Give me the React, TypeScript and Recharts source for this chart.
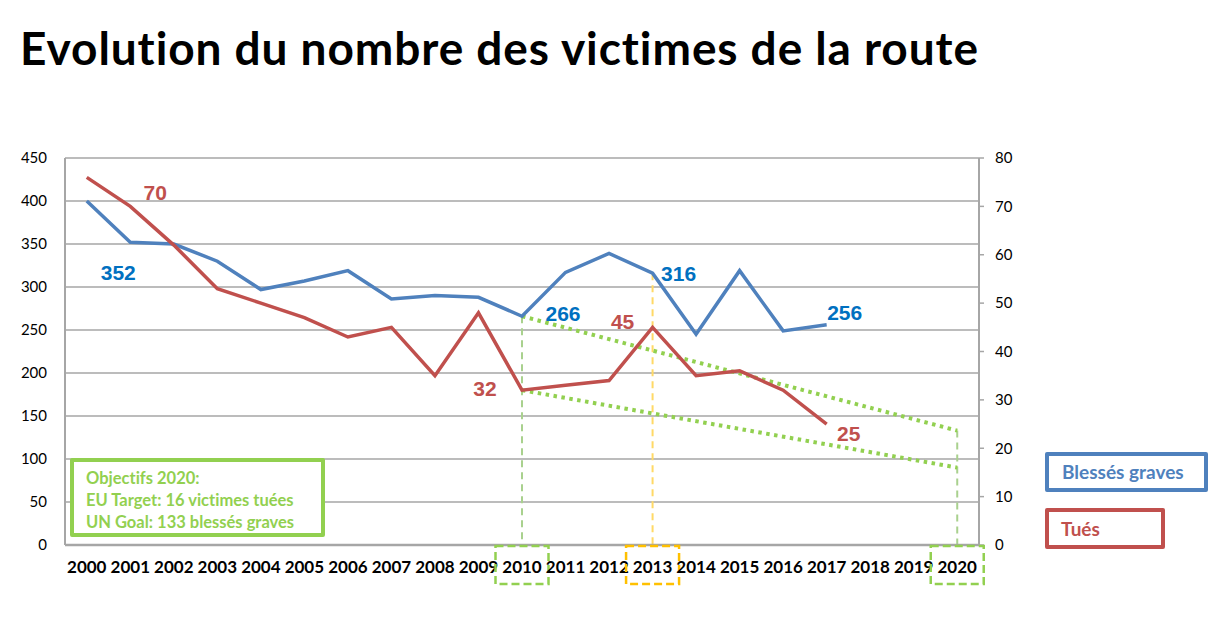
import React from "react";
import {
  CartesianGrid,
  LabelList,
  Line,
  LineChart,
  ReferenceLine,
  XAxis,
  YAxis,
} from "recharts";

const years = [
  "2000", "2001", "2002", "2003", "2004", "2005", "2006", "2007", "2008", "2009", "2010",
  "2011", "2012", "2013", "2014", "2015", "2016", "2017", "2018", "2019", "2020",
];
const blesses = [400, 352, 350, 330, 297, 307, 319, 286, 290, 288, 266, 317, 339, 316, 245, 319, 249, 256, null, null, null];
const tues = [76, 70, 62, 53, 50, 47, 43, 45, 35, 48, 32, 33, 34, 45, 35, 36, 32, 25, null, null, null];
// objectif: la moitié de 2010 en 2020
const goalBlesses = [null, null, null, null, null, null, null, null, null, null, 266, null, null, null, null, null, null, null, null, null, 133];
const goalTues = [null, null, null, null, null, null, null, null, null, null, 32, null, null, null, null, null, null, null, null, null, 16];
const leftTicks = [0, 50, 100, 150, 200, 250, 300, 350, 400, 450];
const rightTicks = [0, 10, 20, 30, 40, 50, 60, 70, 80];

const BLUE = "#4f81bd";
const RED = "#c0504d";
const GREEN = "#92d050";
const YELLOW = "#ffc000";

// boxes round some year labels
const markedYears: Record<string, string> = { "2010": GREEN, "2013": YELLOW, "2020": GREEN };

// where the value labels sit, relative to the point
const blueLabelSpots: Record<string, [number, number]> = {
  "2001": [-12, 30],
  "2010": [41, -3],
  "2013": [26, 0],
  "2017": [18, -12],
};
const redLabelSpots: Record<string, [number, number]> = {
  "2001": [25, -14],
  "2010": [-37, -2],
  "2013": [-30, -6],
  "2017": [22, 9],
};

const data = years.map((year, i) => ({
  year,
  blesses: blesses[i],
  tues: tues[i],
  goalBlesses: goalBlesses[i],
  goalTues: goalTues[i],
}));

const FONT = "Lato, 'Noto Sans', sans-serif";
// half a category width, so points sit in the middle of their slot
const HALF_BAND = 914 / years.length / 2;

function YearTick(props: any) {
  const { x, y, payload } = props;
  const mark = markedYears[payload.value];
  return (
    <g>
      {mark && (
        <rect
          x={x - 26.5}
          y={y + 1}
          width={53}
          height={38}
          fill="none"
          stroke={mark}
          strokeWidth={2.5}
          strokeDasharray="8 4"
        />
      )}
      <text x={x} y={y + 28} textAnchor="middle" fontFamily={FONT} fontWeight={700} fontSize={17} fill="#000">
        {payload.value}
      </text>
    </g>
  );
}

function makeLabel(spots: Record<string, [number, number]>, color: string) {
  return (props: any) => {
    const { x, y, index, value } = props;
    const spot = spots[years[index]];
    if (!spot || value == null) return null;
    return (
      <text
        x={x + spot[0]}
        y={y + spot[1]}
        textAnchor="middle"
        dominantBaseline="central"
        fontFamily="'Liberation Sans', Arial, sans-serif"
        fontWeight={700}
        fontSize={21}
        fill={color}
      >
        {value}
      </text>
    );
  };
}

export default function App() {
  return (
    <div
      style={{
        position: "absolute",
        left: 0,
        top: 0,
        width: 1224,
        height: 624,
        background: "#fff",
        fontFamily: FONT,
        fontVariantLigatures: "none",
        overflow: "hidden",
      }}
    >
      <svg width={1224} height={100} style={{ position: "absolute", left: 0, top: 0 }}>
        <text
          x={20}
          y={65}
          fontFamily={FONT}
          fontWeight={700}
          fontSize={46}
          fill="#000"
          textLength={958}
          lengthAdjust="spacing"
          style={{ fontVariantLigatures: "none" }}
        >
          Evolution du nombre des victimes de la route
        </text>
      </svg>

      <div style={{ position: "absolute", left: 0, top: 0 }}>
        <LineChart
          width={1224}
          height={624}
          data={data}
          margin={{ top: 158, right: 195, bottom: 39, left: 20 }}
        >
          <CartesianGrid yAxisId="left" vertical={false} stroke="#a6a6a6" strokeWidth={1.5} />
          <XAxis
            dataKey="year"
            height={40}
            interval={0}
            padding={{ left: HALF_BAND, right: HALF_BAND }}
            tick={<YearTick />}
            tickLine={false}
            tickSize={0}
            tickMargin={0}
            axisLine={{ stroke: "#a6a6a6", strokeWidth: 2.5 }}
          />
          <YAxis
            yAxisId="left"
            width={45}
            domain={[0, 450]}
            ticks={leftTicks}
            interval={0}
            tickLine={false}
            tickSize={0}
            tickMargin={18}
            axisLine={{ stroke: "#a6a6a6", strokeWidth: 2 }}
            tick={{ fontFamily: FONT, fontSize: 15, fill: "#000" }}
          />
          <YAxis
            yAxisId="right"
            orientation="right"
            width={50}
            domain={[0, 80]}
            ticks={rightTicks}
            interval={0}
            tickSize={5}
            tickMargin={11}
            tickLine={{ stroke: "#a6a6a6", strokeWidth: 1.5 }}
            axisLine={{ stroke: "#a6a6a6", strokeWidth: 2 }}
            tick={{ fontFamily: FONT, fontSize: 15, fill: "#000", textAnchor: "start" }}
          />

          <ReferenceLine
            yAxisId="left"
            segment={[{ x: "2010", y: 266 }, { x: "2010", y: 0 }]}
            stroke="#a9d18e"
            strokeWidth={2}
            strokeDasharray="7 5"
          />
          <ReferenceLine
            yAxisId="left"
            segment={[{ x: "2013", y: 316 }, { x: "2013", y: 0 }]}
            stroke="#ffd966"
            strokeWidth={2}
            strokeDasharray="7 5"
          />
          <ReferenceLine
            yAxisId="left"
            segment={[{ x: "2020", y: 133 }, { x: "2020", y: 0 }]}
            stroke="#a9d18e"
            strokeWidth={2}
            strokeDasharray="7 5"
          />

          <Line
            yAxisId="left"
            dataKey="goalBlesses"
            connectNulls
            stroke={GREEN}
            strokeWidth={4}
            strokeDasharray="3.5 4.5"
            dot={false}
            isAnimationActive={false}
          />
          <Line
            yAxisId="right"
            dataKey="goalTues"
            connectNulls
            stroke={GREEN}
            strokeWidth={4}
            strokeDasharray="3.5 4.5"
            dot={false}
            isAnimationActive={false}
          />
          <Line
            yAxisId="left"
            dataKey="blesses"
            stroke={BLUE}
            strokeWidth={3.5}
            dot={false}
            isAnimationActive={false}
          >
            <LabelList dataKey="blesses" content={makeLabel(blueLabelSpots, "#0070c0")} />
          </Line>
          <Line
            yAxisId="right"
            dataKey="tues"
            stroke={RED}
            strokeWidth={3.5}
            dot={false}
            isAnimationActive={false}
          >
            <LabelList dataKey="tues" content={makeLabel(redLabelSpots, RED)} />
          </Line>
        </LineChart>
      </div>

      <div
        style={{
          position: "absolute",
          left: 70,
          top: 458,
          width: 255,
          height: 79,
          boxSizing: "border-box",
          border: `4.5px solid ${GREEN}`,
          borderRadius: 2,
          background: "#fff",
          color: GREEN,
          fontWeight: 700,
          fontSize: 16.5,
          lineHeight: "22px",
          padding: "5px 0 0 12px",
          whiteSpace: "nowrap",
        }}
      >
        <div>Objectifs 2020:</div>
        <div>EU Target: 16 victimes tuées</div>
        <div>UN Goal: 133 blessés graves</div>
      </div>

      <div
        style={{
          position: "absolute",
          left: 1045,
          top: 452,
          width: 163,
          height: 40,
          boxSizing: "border-box",
          border: `4px solid ${BLUE}`,
          borderRadius: 2,
          color: BLUE,
          fontWeight: 700,
          fontSize: 19,
          lineHeight: "32px",
          paddingLeft: 13,
          whiteSpace: "nowrap",
        }}
      >
        Blessés graves
      </div>
      <div
        style={{
          position: "absolute",
          left: 1045,
          top: 508,
          width: 120,
          height: 41,
          boxSizing: "border-box",
          border: `4px solid ${RED}`,
          borderRadius: 2,
          color: RED,
          fontWeight: 700,
          fontSize: 19,
          lineHeight: "33px",
          paddingLeft: 12,
        }}
      >
        Tués
      </div>
    </div>
  );
}
